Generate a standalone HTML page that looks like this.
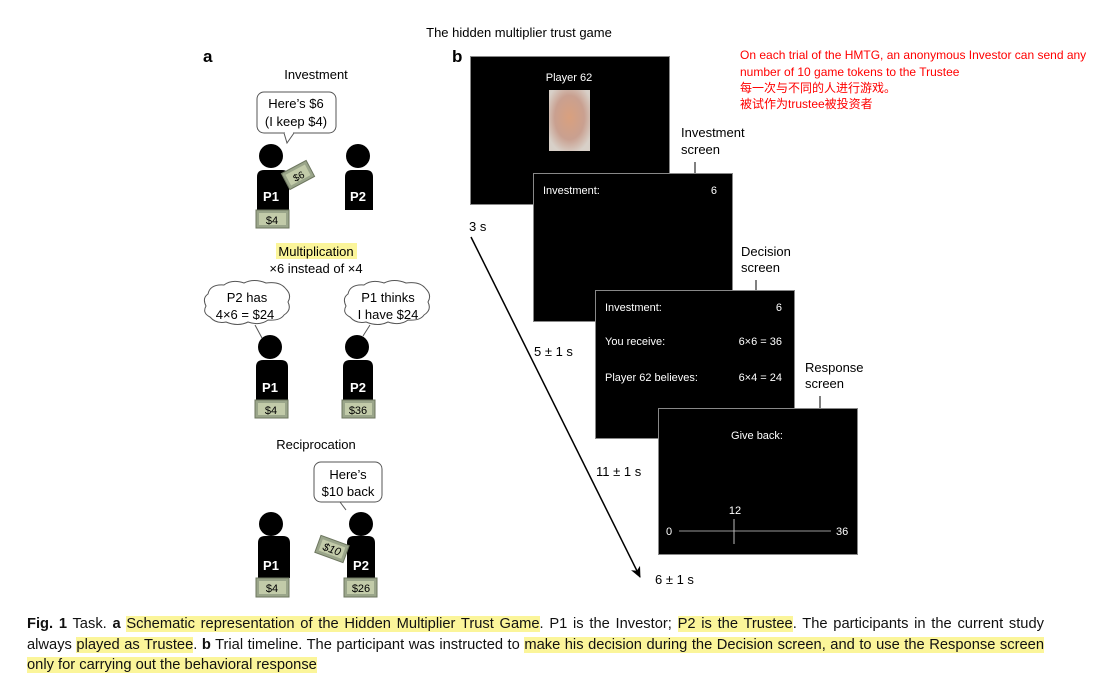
<!DOCTYPE html>
<html><head><meta charset="utf-8"><style>
body{margin:0;background:#fff;width:1108px;height:686px;overflow:hidden;position:relative;font-family:"Liberation Sans","Noto Sans CJK SC",sans-serif}
.cap{position:absolute;left:27px;font-size:14.7px;white-space:nowrap;color:#111;line-height:20px}
.j{width:1017px;white-space:normal;text-align:justify;text-align-last:justify;height:20px;overflow:hidden}
.h{background:#fbf59a}
</style></head><body>
<svg width="1108" height="686" style="position:absolute;left:0;top:0" font-family="Liberation Sans, Noto Sans CJK SC, sans-serif">
<defs><marker id="ah" markerWidth="12" markerHeight="12" refX="10" refY="5" orient="auto" markerUnits="userSpaceOnUse"><path d="M0,0 L11,5 L0,10 L3,5 z" fill="#000"/></marker></defs>
<text x="519" y="37" font-size="13" text-anchor="middle">The hidden multiplier trust game</text>
<text x="203" y="62" font-size="17" font-weight="bold">a</text>
<text x="452" y="62" font-size="17" font-weight="bold">b</text>
<text x="316" y="79" font-size="13" text-anchor="middle">Investment</text>
<rect x="257" y="92" width="79" height="41" rx="7" fill="#fff" stroke="#555"/>
<path d="M284,133 L287,143 L294,133" fill="#fff" stroke="#555"/><line x1="285" y1="132.5" x2="293" y2="132.5" stroke="#fff" stroke-width="2"/>
<text x="296" y="108" font-size="13" text-anchor="middle">Here’s $6</text>
<text x="296" y="126" font-size="13" text-anchor="middle">(I keep $4)</text>
<circle cx="271" cy="156" r="12"/><path d="M257,177 q0,-7 7,-7 h18 q7,0 7,7 v33 h-32z"/>
<text x="271" y="201" font-size="13" font-weight="bold" fill="#fff" text-anchor="middle">P1</text>
<g transform="rotate(-28 298 175)"><rect x="284" y="166" width="28" height="18" fill="#9aa58a" stroke="#6d765f"/><rect x="287" y="169" width="22" height="12" fill="#c2cba9"/><text x="298" y="180" font-size="10" text-anchor="middle">$6</text></g>
<rect x="256" y="210" width="33" height="18" fill="#9aa58a" stroke="#6d765f"/><rect x="259" y="213" width="27" height="12" fill="#c2cba9"/><text x="272" y="224" font-size="11" text-anchor="middle">$4</text>
<circle cx="358" cy="156" r="12"/><path d="M345,177 q0,-7 7,-7 h14 q7,0 7,7 v33 h-28z"/>
<text x="358" y="201" font-size="13" font-weight="bold" fill="#fff" text-anchor="middle">P2</text>
<rect x="276" y="243" width="81" height="16" fill="#fbf59a"/>
<text x="316" y="256" font-size="13" text-anchor="middle">Multiplication</text>
<text x="316" y="273" font-size="13" text-anchor="middle">×6 instead of ×4</text>
<path d="M208,294 q2,-10 16,-9 q8,-6 20,-2 q10,-5 22,0 q14,-2 20,6 q6,6 2,13 q4,8 -4,13 q-4,6 -16,5 q-8,6 -20,2 q-10,5 -22,0 q-10,2 -16,-5 q-8,-4 -4,-11 q-4,-8 2,-12z" fill="#fff" stroke="#555"/>
<line x1="255" y1="325" x2="262" y2="338" stroke="#555"/>
<text x="247" y="302" font-size="13" text-anchor="middle">P2 has</text>
<text x="245" y="319" font-size="13" text-anchor="middle">4×6 = $24</text>
<path d="M348,294 q2,-10 16,-9 q8,-6 20,-2 q10,-5 22,0 q14,-2 20,6 q6,6 2,13 q4,8 -4,13 q-4,6 -16,5 q-8,6 -20,2 q-10,5 -22,0 q-10,2 -16,-5 q-8,-4 -4,-11 q-4,-8 2,-12z" fill="#fff" stroke="#555"/>
<line x1="370" y1="325" x2="363" y2="336" stroke="#555"/>
<text x="388" y="302" font-size="13" text-anchor="middle">P1 thinks</text>
<text x="388" y="319" font-size="13" text-anchor="middle">I have $24</text>
<circle cx="270" cy="347" r="12"/><path d="M256,367 q0,-7 7,-7 h18 q7,0 7,7 v33 h-32z"/>
<text x="270" y="392" font-size="13" font-weight="bold" fill="#fff" text-anchor="middle">P1</text>
<rect x="255" y="400" width="33" height="18" fill="#9aa58a" stroke="#6d765f"/><rect x="258" y="403" width="27" height="12" fill="#c2cba9"/><text x="271" y="414" font-size="11" text-anchor="middle">$4</text>
<circle cx="357" cy="347" r="12"/><path d="M343,367 q0,-7 7,-7 h16 q7,0 7,7 v33 h-30z"/>
<text x="358" y="392" font-size="13" font-weight="bold" fill="#fff" text-anchor="middle">P2</text>
<rect x="342" y="400" width="33" height="18" fill="#9aa58a" stroke="#6d765f"/><rect x="345" y="403" width="27" height="12" fill="#c2cba9"/><text x="358" y="414" font-size="11" text-anchor="middle">$36</text>
<text x="316" y="449" font-size="13" text-anchor="middle">Reciprocation</text>
<rect x="314" y="462" width="68" height="40" rx="7" fill="#fff" stroke="#555"/>
<line x1="340" y1="502" x2="346" y2="510" stroke="#555"/>
<text x="348" y="479" font-size="13" text-anchor="middle">Here’s</text>
<text x="348" y="496" font-size="13" text-anchor="middle">$10 back</text>
<circle cx="271" cy="524" r="12"/><path d="M258,543 q0,-7 7,-7 h18 q7,0 7,7 v35 h-32z"/>
<text x="271" y="570" font-size="13" font-weight="bold" fill="#fff" text-anchor="middle">P1</text>
<rect x="256" y="578" width="33" height="19" fill="#9aa58a" stroke="#6d765f"/><rect x="259" y="581" width="27" height="13" fill="#c2cba9"/><text x="272" y="592" font-size="11" text-anchor="middle">$4</text>
<circle cx="361" cy="524" r="12"/><path d="M347,543 q0,-7 7,-7 h14 q7,0 7,7 v35 h-28z"/>
<text x="361" y="570" font-size="13" font-weight="bold" fill="#fff" text-anchor="middle">P2</text>
<g transform="rotate(20 332 549)"><rect x="317" y="540" width="30" height="18" fill="#9aa58a" stroke="#6d765f"/><rect x="320" y="543" width="24" height="12" fill="#c2cba9"/><text x="332" y="553" font-size="11" font-style="italic" text-anchor="middle">$10</text></g>
<rect x="344" y="578" width="33" height="19" fill="#9aa58a" stroke="#6d765f"/><rect x="347" y="581" width="27" height="13" fill="#c2cba9"/><text x="361" y="592" font-size="11" text-anchor="middle">$26</text>
<rect x="470.5" y="56.5" width="199" height="148" fill="#000" stroke="#888"/>
<text x="569" y="81" font-size="11" fill="#fff" text-anchor="middle">Player 62</text>
<defs><radialGradient id="f" cx="50%" cy="45%" r="60%"><stop offset="0" stop-color="#d9a07e"/><stop offset="0.6" stop-color="#c9a090"/><stop offset="1" stop-color="#d8d0c8"/></radialGradient></defs>
<rect x="549" y="90" width="41" height="61" fill="url(#f)"/>
<text x="681" y="137" font-size="13">Investment</text><text x="681" y="154" font-size="13">screen</text>
<line x1="695" y1="162" x2="695" y2="173" stroke="#000"/>
<rect x="533.5" y="173.5" width="199" height="148" fill="#000" stroke="#888"/>
<text x="543" y="194" font-size="11" fill="#fff">Investment:</text><text x="717" y="194" font-size="11" fill="#fff" text-anchor="end">6</text>
<text x="741" y="256" font-size="13">Decision</text><text x="741" y="272" font-size="13">screen</text>
<line x1="756" y1="280" x2="756" y2="290" stroke="#000"/>
<rect x="595.5" y="290.5" width="199" height="148" fill="#000" stroke="#888"/>
<text x="605" y="311" font-size="11" fill="#fff">Investment:</text><text x="782" y="311" font-size="11" fill="#fff" text-anchor="end">6</text>
<text x="605" y="345" font-size="11" fill="#fff">You receive:</text><text x="782" y="345" font-size="11" fill="#fff" text-anchor="end">6×6 = 36</text>
<text x="605" y="381" font-size="11" fill="#fff">Player 62 believes:</text><text x="782" y="381" font-size="11" fill="#fff" text-anchor="end">6×4 = 24</text>
<text x="805" y="372" font-size="13">Response</text><text x="805" y="388" font-size="13">screen</text>
<line x1="820" y1="396" x2="820" y2="408" stroke="#000"/>
<rect x="658.5" y="408.5" width="199" height="146" fill="#000" stroke="#888"/>
<text x="757" y="439" font-size="11" fill="#fff" text-anchor="middle">Give back:</text>
<text x="735" y="514" font-size="11" fill="#fff" text-anchor="middle">12</text>
<line x1="679" y1="531" x2="831" y2="531" stroke="#999"/><line x1="734" y1="519" x2="734" y2="544" stroke="#bbb"/>
<text x="666" y="535" font-size="11" fill="#fff">0</text><text x="836" y="535" font-size="11" fill="#fff">36</text>
<line x1="471" y1="237" x2="640" y2="577" stroke="#000" stroke-width="1.5" marker-end="url(#ah)"/>
<text x="469" y="231" font-size="13">3 s</text>
<text x="534" y="356" font-size="13">5 ± 1 s</text>
<text x="596" y="476" font-size="13">11 ± 1 s</text>
<text x="655" y="584" font-size="13">6 ± 1 s</text>
<g fill="#ff0000" font-size="12">
<text x="740" y="59">On each trial of the HMTG, an anonymous Investor can send any</text>
<text x="740" y="76">number of 10 game tokens to the Trustee</text>
<text x="740" y="92">每一次与不同的人进行游戏。</text>
<text x="740" y="108">被试作为trustee被投资者</text>
</g>
</svg>
<div class="cap j" style="top:614px"><b>Fig. 1</b> Task. <b>a</b> <span class="h">Schematic representation of the Hidden Multiplier Trust Game</span>. P1 is the Investor; <span class="h">P2 is the Trustee</span>. The participants in the current study</div>
<div class="cap j" style="top:635px">always <span class="h">played as Trustee</span>. <b>b</b> Trial timeline. The participant was instructed to <span class="h">make his decision during the Decision screen, and to use the Response screen</span></div>
<div class="cap" style="top:655px"><span class="h">only for carrying out the behavioral response</span></div>
</body></html>
